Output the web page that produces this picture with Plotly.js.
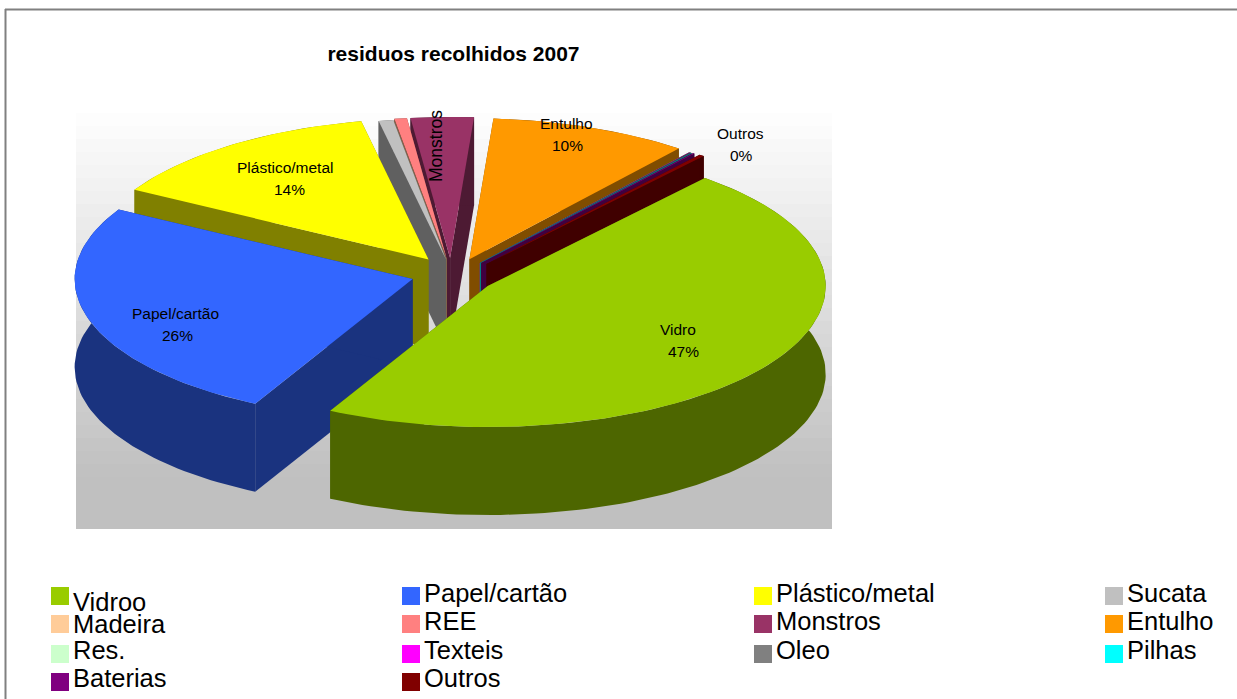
<!DOCTYPE html>
<html>
<head>
<meta charset="utf-8">
<script src="https://cdn.plot.ly/plotly-3.0.1.min.js"></script>
<style>html,body{margin:0;padding:0;background:#fff}#chart{width:1237px;height:699px}</style>
</head>
<body>
<div id="chart"></div>
<script>
// ---- data ----
const categories = ["Vidro","Papel/cartão","Plástico/metal","Sucata","Madeira","REE","Monstros","Entulho","Res.","Texteis","Oleo","Pilhas","Baterias","Outros"];
const legendLabels = ["Vidroo","Papel/cartão","Plástico/metal","Sucata","Madeira","REE","Monstros","Entulho","Res.","Texteis","Oleo","Pilhas","Baterias","Outros"];
const shares = [46.6,25.5,13.6,0.7,0.02,0.6,3.0,9.5,0.02,0.05,0.03,0.03,0.1,0.25];
const colors = ["#99cc00","#3366ff","#ffff00","#c0c0c0","#ffcc99","#ff8080","#993366","#ff9900","#ccffcc","#ff00ff","#808080","#00ffff","#800080","#800000"];
const wallColors = ["#4d6600","#1a337f","#808000","#606060","#80664d","#804040","#4d1a33","#804d00","#668066","#800080","#404040","#008080","#400040","#400000"];

// ---- pie geometry (in page pixels, the axes below map 1:1 to the page) ----
const cx = 451, cy = 276, rx = 338, ry = 141, depth = 88;
const burstX = 40, burstY = 18, startDeg = 40;
const sliceShiftX = [3.5,0,1,2,2,1,0,4,4,4,4,4,5,10];
const sliceShiftY = [0,-2,-2,1,1,0,0,0,1,1,1,1,1,2];
const rad = d => d * Math.PI / 180;

const total = shares.reduce((a, b) => a + b, 0);
let cursor = startDeg;
const slices = shares.map((v, i) => {
  const a0 = cursor, a1 = cursor + v / total * 360;
  cursor = a1;
  const mid = rad((a0 + a1) / 2);
  const ax = cx + burstX * Math.sin(mid) + sliceShiftX[i];
  const ay = cy - burstY * Math.cos(mid) + sliceShiftY[i];
  const n = Math.max(2, Math.ceil((a1 - a0) / 1.5));
  const arc = [];
  for (let k = 0; k <= n; k++) {
    const t = rad(a0 + (a1 - a0) * k / n);
    arc.push([ax + rx * Math.sin(t), ay - ry * Math.cos(t)]);
  }
  return {i, ax, ay, arc, back: Math.cos(mid)};
});

function poly(points, color) {
  return {
    type: "scatter", mode: "lines", fill: "toself", fillcolor: color,
    x: points.map(p => p[0]), y: points.map(p => p[1]),
    line: {width: 0, color: color}, hoverinfo: "skip", showlegend: false
  };
}

// background gradient
const bandEdges = [], bandZ = [];
for (let y = 113; y < 529; y += 13) { bandEdges.push(y); bandZ.push([Math.min(1, (y - 100) / 370)]); }
bandEdges.push(529);
const traces = [{
  type: "heatmap", x: [76, 832], y: bandEdges, z: bandZ, zmin: 0, zmax: 1,
  colorscale: [[0, "#ffffff"], [1, "#c0c0c0"]], showscale: false, hoverinfo: "skip"
}];

// painter's order: back slices first
[...slices].sort((a, b) => b.back - a.back).forEach(s => {
  const wall = wallColors[s.i], A = [s.ax, s.ay];
  const down = p => [p[0], p[1] + depth];
  const first = s.arc[0], last = s.arc[s.arc.length - 1];
  traces.push(poly([A, first, down(first), down(A), A], wall));
  traces.push(poly([A, last, down(last), down(A), A], wall));
  traces.push(poly([...s.arc, ...s.arc.slice().reverse().map(down), s.arc[0]], wall));
  traces.push(poly([A, ...s.arc, A], colors[s.i]));
});

// ---- text ----
const font = "Liberation Sans, Arial, sans-serif";
const anns = [];
function label(x, y, text, size, extra) {
  anns.push(Object.assign({xref: "x", yref: "y", x, y, text, showarrow: false,
    font: {family: font, size, color: "#000"}, xanchor: "center", yanchor: "middle"}, extra || {}));
}
// data labels: [slice index, name x, name y, pct x, pct y]
const dataLabels = [[0,678,329,683,351],[1,175,313,177,335],[2,285,167,289,189],[7,566,123,567,145],[13,740,133,741,155]];
dataLabels.forEach(([i, nx, ny, px, py]) => {
  label(nx, ny, categories[i], 15.5);
  label(px, py, Math.round(shares[i] / total * 100) + "%", 15.5);
});
label(436, 146, categories[6], 17.5, {textangle: -90});

// legend: 4 columns, 4 rows
const swatchX = [51, 402, 754, 1105], swatchY = [587, 615, 645, 673], swatchSize = 18;
const textX = [73, 424, 776, 1127];
const baseY = [[611,602,602,602],[633,630,630,630],[659,659,659,659],[687,687]];
const shapes = [
  {type: "line", xref: "x", yref: "y", x0: 5.5, x1: 5.5, y0: 9, y1: 699, line: {color: "#808080", width: 2}},
  {type: "line", xref: "x", yref: "y", x0: 5, x1: 1237, y0: 9.5, y1: 9.5, line: {color: "#808080", width: 2}}
];
legendLabels.forEach((t, i) => {
  const col = i % 4, row = Math.floor(i / 4);
  shapes.push({type: "rect", xref: "x", yref: "y", x0: swatchX[col], x1: swatchX[col] + swatchSize,
    y0: swatchY[row], y1: swatchY[row] + swatchSize, fillcolor: colors[i], line: {width: 0}});
  anns.push({xref: "x", yref: "y", x: textX[col], y: baseY[row][col] - 9, text: t, showarrow: false,
    xanchor: "left", yanchor: "middle", xshift: -2,
    font: {family: font, size: 25.5, color: "#000"}});
});

const layout = {
  width: 1237, height: 699, margin: {l: 0, r: 0, t: 0, b: 0},
  paper_bgcolor: "#fff", plot_bgcolor: "#fff", showlegend: false,
  title: {text: "<b>residuos recolhidos 2007</b>", x: 453.5 / 1237, xanchor: "center", xref: "paper",
    y: 1 - 53.5 / 699, yanchor: "middle", yref: "paper",
    font: {family: font, size: 21, color: "#000"}},
  xaxis: {range: [0, 1237], visible: false, fixedrange: true},
  yaxis: {range: [699, 0], visible: false, fixedrange: true},
  annotations: anns, shapes
};
Plotly.newPlot("chart", traces, layout, {displayModeBar: false, responsive: false});
</script>
</body>
</html>
